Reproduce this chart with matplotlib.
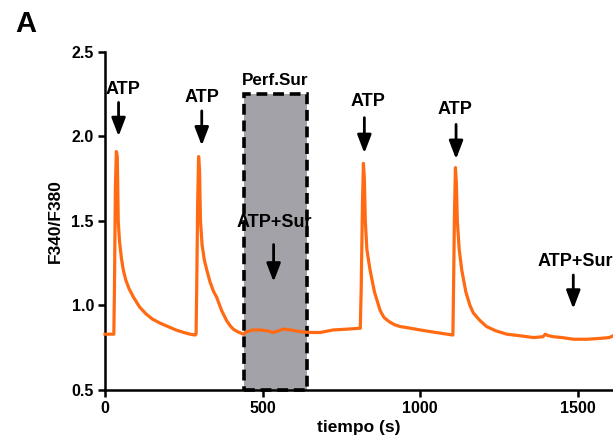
import matplotlib
matplotlib.use("Agg")
import matplotlib.pyplot as plt
from matplotlib.patches import Rectangle

plt.rcParams['font.family'] = ['Liberation Sans', 'DejaVu Sans']
plt.rcParams['font.weight'] = 'bold'

# Trace: time (s) and F340/F380 ratio
time = [0, 15, 28, 30, 33, 36, 39, 42, 46, 52, 58, 66, 76, 90, 110, 130, 150, 175, 200, 225, 250, 270, 286,
        289, 291, 294, 297, 300, 303, 308, 315, 323, 333, 345, 354, 370, 386, 397, 407, 420, 439,
        450, 470, 492, 515, 534, 550, 566, 590, 619, 650, 683, 724, 770, 808,
        810, 813, 817, 820, 823, 826, 831, 841, 855, 873, 885, 894, 905, 920, 937, 970, 1000, 1050, 1100, 1104,
        1106, 1109, 1112, 1115, 1118, 1124, 1132, 1145, 1158, 1169, 1190, 1211, 1240, 1275, 1320, 1360,
        1390, 1397, 1405, 1423, 1450, 1487, 1530, 1571, 1600, 1612]
ratio = [0.83, 0.83, 0.83, 1.10, 1.70, 1.91, 1.88, 1.50, 1.38, 1.28, 1.21, 1.15, 1.10, 1.05, 0.99, 0.95, 0.92, 0.895, 0.875, 0.855, 0.84, 0.83, 0.825,
         0.83, 1.10, 1.60, 1.88, 1.80, 1.50, 1.36, 1.27, 1.21, 1.14, 1.08, 1.05, 0.97, 0.91, 0.88, 0.86, 0.845, 0.83,
         0.845, 0.855, 0.855, 0.85, 0.84, 0.85, 0.86, 0.855, 0.845, 0.84, 0.84, 0.855, 0.86, 0.865,
         0.865, 1.10, 1.60, 1.84, 1.75, 1.50, 1.33, 1.21, 1.08, 0.97, 0.93, 0.915, 0.90, 0.885, 0.875, 0.865, 0.855, 0.84, 0.826, 0.825,
         1.10, 1.55, 1.815, 1.72, 1.50, 1.33, 1.21, 1.08, 1.00, 0.955, 0.91, 0.875, 0.85, 0.83, 0.82, 0.81,
         0.815, 0.83, 0.822, 0.815, 0.81, 0.80, 0.80, 0.805, 0.81, 0.82]

# Annotations: label, text x, text y, arrow x, arrow top, arrow tip
ann_labels = ["ATP", "ATP", "ATP+Sur", "ATP", "ATP", "ATP+Sur"]
ann_text_x = [57, 307, 537, 834, 1111, 1492]
ann_text_y = [2.275, 2.23, 1.49, 2.205, 2.16, 1.26]
ann_arrow_x = [43, 307, 535, 823, 1114, 1486]
ann_arrow_top = [2.20, 2.15, 1.36, 2.11, 2.07, 1.18]
ann_arrow_tip = [2.00, 1.945, 1.14, 1.90, 1.865, 0.98]

# Perfusion box
box_start, box_end, box_top = 440, 640, 2.25
box_label = "Perf.Sur"

xticks = [0, 500, 1000, 1500]
yticks = [0.5, 1.0, 1.5, 2.0, 2.5]

fig = plt.figure(figsize=(6.13, 4.47), dpi=100)
ax = fig.add_axes([105/613, 57/447, 1 - 105/613, (390 - 51.7)/447])

ax.add_patch(Rectangle((box_start, 0.5), box_end - box_start, box_top - 0.5,
                       facecolor='#a2a2a8', edgecolor='black', linestyle=(0, (3, 1.6)),
                       linewidth=2.6, zorder=1, clip_on=False))
ax.text((box_start + box_end) / 2, box_top + 0.035, box_label, ha='center', va='bottom',
        fontsize=12.3, fontweight='bold')

ax.plot(time, ratio, color='#ff6a13', linewidth=2.3, zorder=3, clip_on=False)

for lab, tx, ty, x, at, tip in zip(ann_labels, ann_text_x, ann_text_y, ann_arrow_x,
                                   ann_arrow_top, ann_arrow_tip):
    ax.text(tx, ty, lab, ha='center', va='center', fontsize=13, fontweight='bold', zorder=5)
    ax.annotate("", xy=(x, tip), xytext=(x, at),
                arrowprops=dict(arrowstyle='-|>,head_length=1.1,head_width=0.42',
                                color='black', lw=2.0, shrinkA=0, shrinkB=0,
                                mutation_scale=10), zorder=5)

ax.set_xlim(0, 1612)
ax.set_ylim(0.5, 2.5)
ax.set_xticks(xticks)
ax.set_yticks(yticks)
ax.set_yticklabels([f"{v:.1f}" for v in yticks])
for s in ['top', 'right']:
    ax.spines[s].set_visible(False)
for s in ['left', 'bottom']:
    ax.spines[s].set_linewidth(1.8)
ax.tick_params(direction='out', length=5, width=1.8, labelsize=11.5, pad=3)
for lbl in ax.get_xticklabels() + ax.get_yticklabels():
    lbl.set_fontweight('bold')
ax.set_xlabel("tiempo (s)", fontsize=12.5, fontweight='bold', labelpad=3)
ax.set_ylabel("F340/F380", fontsize=12.5, fontweight='bold', labelpad=6)

fig.text(15/613, 1 - 24/447, "A", fontsize=21, fontweight='bold', va='center', ha='left')

fig.savefig("out.png", dpi=100)
